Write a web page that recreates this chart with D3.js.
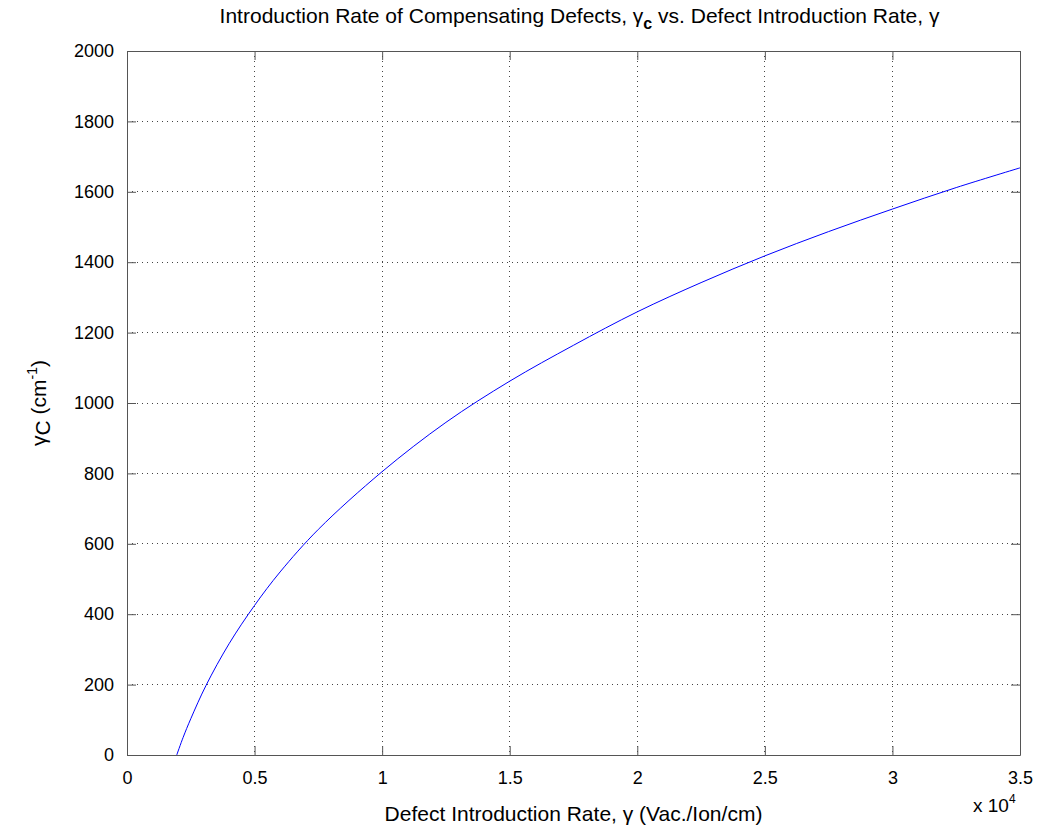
<!DOCTYPE html>
<html>
<head>
<meta charset="utf-8">
<script src="https://cdn.jsdelivr.net/npm/d3@7"></script>
<style>
  body { margin: 0; background: #fff; }
  svg { font-family: "Liberation Sans", Arial, sans-serif; }
</style>
</head>
<body>
<svg id="chart"></svg>
<script>
// values (x in Vac./Ion/cm)
var gammaVals = [1950, 2200, 2500, 3100, 4000, 5000, 6000, 7500, 10000, 12500, 15000, 17500,
                 20000, 22500, 25000, 27500, 30000, 32500, 35000];
var gammaC = [0, 50, 103, 198, 316, 425, 520, 641, 805, 945, 1062, 1164,
              1259, 1342, 1418, 1487, 1551, 1612, 1668];
var xTicks = [0, 5000, 10000, 15000, 20000, 25000, 30000, 35000];
var xTickLabels = ["0", "0.5", "1", "1.5", "2", "2.5", "3", "3.5"];
var yTicks = [0, 200, 400, 600, 800, 1000, 1200, 1400, 1600, 1800, 2000];

var width = 1040, height = 831;
var margin = {top: 51, right: 20, bottom: 76, left: 127};
var w = width - margin.left - margin.right;
var h = height - margin.top - margin.bottom;

var svg = d3.select("#chart")
    .attr("width", width)
    .attr("height", height);

var g = svg.append("g")
    .attr("transform", "translate(" + margin.left + "," + margin.top + ")");

var x = d3.scaleLinear().domain([0, 35000]).range([0, w]);
var y = d3.scaleLinear().domain([0, 2000]).range([h, 0]);

// grid
g.selectAll(".vgrid")
    .data(xTicks.slice(1, -1))
    .enter().append("line")
    .attr("x1", function (d) { return x(d); })
    .attr("x2", function (d) { return x(d); })
    .attr("y1", 0).attr("y2", h)
    .attr("stroke", "#444").attr("stroke-width", 1)
    .attr("stroke-dasharray", "1,4")
    .attr("shape-rendering", "crispEdges");

g.selectAll(".hgrid")
    .data(yTicks.slice(1, -1))
    .enter().append("line")
    .attr("y1", function (d) { return y(d); })
    .attr("y2", function (d) { return y(d); })
    .attr("x1", 0).attr("x2", w)
    .attr("stroke", "#444").attr("stroke-width", 1)
    .attr("stroke-dasharray", "1,4")
    .attr("shape-rendering", "crispEdges");

// axes, ticks pointing inward, box all round
var fmtX = function (d, i) { return xTickLabels[i]; };

g.append("g")
    .attr("transform", "translate(0," + h + ")")
    .call(d3.axisBottom(x).tickValues(xTicks).tickFormat(fmtX).tickSizeInner(-9).tickSizeOuter(0).tickPadding(16));

g.append("g")
    .call(d3.axisTop(x).tickValues(xTicks).tickFormat("").tickSizeInner(-9).tickSizeOuter(0));

g.append("g")
    .call(d3.axisLeft(y).tickValues(yTicks).tickFormat(d3.format("d")).tickSizeInner(-9).tickSizeOuter(0).tickPadding(13));

g.append("g")
    .attr("transform", "translate(" + w + ",0)")
    .call(d3.axisRight(y).tickValues(yTicks).tickFormat("").tickSizeInner(-9).tickSizeOuter(0));

g.selectAll(".domain").attr("stroke", "#555");
g.selectAll(".tick line").attr("stroke", "#555");
g.selectAll(".tick text")
    .attr("fill", "#000")
    .style("font-size", "18px")
    .style("font-family", "Liberation Sans, Arial, sans-serif");

// curve
var line = d3.line()
    .x(function (d) { return x(d[0]); })
    .y(function (d) { return y(d[1]); })
    .curve(d3.curveCatmullRom.alpha(0.5));

g.append("path")
    .datum(d3.zip(gammaVals, gammaC))
    .attr("fill", "none")
    .attr("stroke", "#0000ff")
    .attr("stroke-width", 1)
    .attr("d", line);

// title
var title = svg.append("text")
    .attr("x", margin.left + w / 2 + 6)
    .attr("y", 23)
    .attr("text-anchor", "middle")
    .style("font-size", "21px");
title.append("tspan").text("Introduction Rate of Compensating Defects, \u03b3");
title.append("tspan").attr("dy", 6).style("font-weight", "bold").style("font-size", "16px").text("c");
title.append("tspan").attr("dy", -6).text(" vs. Defect Introduction Rate, \u03b3");

// x label
svg.append("text")
    .attr("x", margin.left + w / 2)
    .attr("y", 821)
    .attr("text-anchor", "middle")
    .style("font-size", "21px")
    .text("Defect Introduction Rate, \u03b3 (Vac./Ion/cm)");

// exponent
var expo = svg.append("text")
    .attr("x", 973)
    .attr("y", 812)
    .style("font-size", "19px");
expo.append("tspan").text("x 10");
expo.append("tspan").attr("dy", -9).style("font-size", "12px").text("4");

// y label
var ylab = svg.append("text")
    .attr("transform", "translate(46," + (margin.top + h / 2) + ") rotate(-90)")
    .attr("text-anchor", "middle")
    .style("font-size", "21px");
ylab.append("tspan").text("\u03b3");
ylab.append("tspan").attr("dy", 4).text("C");
ylab.append("tspan").attr("dy", -4).text(" (cm");
ylab.append("tspan").attr("dy", -9).style("font-size", "14px").text("-1");
ylab.append("tspan").attr("dy", 9).text(")");
</script>
</body>
</html>
